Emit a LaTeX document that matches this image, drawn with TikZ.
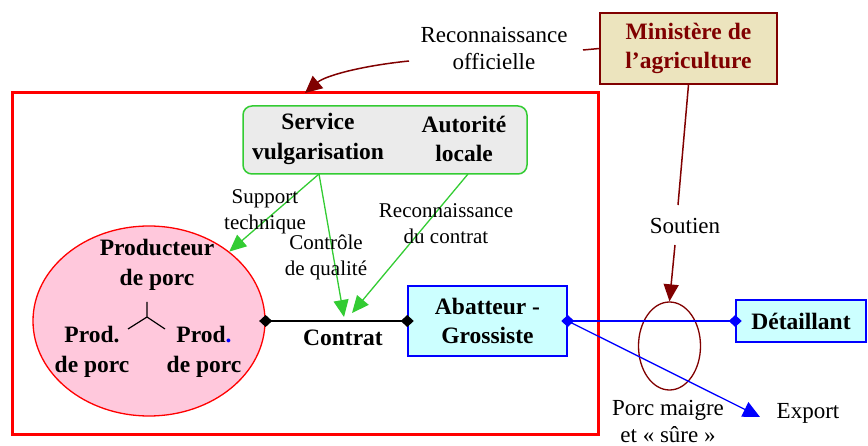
\documentclass[tikz,border=0pt]{standalone}
\usepackage{fontspec}
\setmainfont{Liberation Serif}
\usetikzlibrary{arrows.meta,shapes.geometric}
\definecolor{dred}{RGB}{128,0,0}
\definecolor{mgreen}{RGB}{51,204,51}
\definecolor{mblue}{RGB}{0,0,255}
\definecolor{mred}{RGB}{255,0,0}
\definecolor{minfill}{RGB}{236,228,190}
\definecolor{pinkfill}{RGB}{255,200,220}
\definecolor{cyanfill}{RGB}{204,255,255}
\definecolor{grayfill}{RGB}{235,235,235}
\tikzset{
  bigbold/.style={font=\fontsize{23.5}{29.5}\selectfont\bfseries, align=center, inner sep=0pt},
  lab/.style={font=\fontsize{21}{26}\selectfont, align=center, inner sep=0pt},
  toplab/.style={font=\fontsize{23}{27}\selectfont, align=center, inner sep=0pt},
  bluebox/.style={draw=mblue, fill=cyanfill, line width=1.5pt, rectangle, inner sep=0pt},
  garrow/.style={draw=mgreen, line width=1.3pt, -{Triangle[length=17pt,width=15pt]}},
  rarrow/.style={draw=dred, line width=1.5pt},
  dia/.style={{Diamond[length=13pt,width=12pt]}-{Diamond[length=13pt,width=12pt]}, shorten <=-6.5pt, shorten >=-6.5pt},
}
\begin{document}
\begin{tikzpicture}[x=1pt,y=-1pt]
\useasboundingbox (0,0) rectangle (868,446);
% main red frame
\draw[mred, line width=3pt] (12,93) rectangle (598,434);
% ministere
\node[draw=dred, fill=minfill, line width=1.5pt, minimum width=177pt, minimum height=71pt, inner sep=0pt,
      font=\fontsize{23.5}{29}\selectfont\bfseries, text=dred, align=center] (min) at (688.5,48.5) {Ministère de\\l'agriculture};
\node[toplab] (recoff) at (494,49) {Reconnaissance\\officielle};
\coordinate (rc1) at (583,50);
\coordinate (rc2) at (409,61);
\coordinate (rc3) at (305,93);
\draw[rarrow] (min.west) -- (rc1);
\draw[rarrow, -{Triangle[length=17pt,width=16pt]}] (rc2) .. controls (360,66) and (325,76) .. (rc3);
% actors box
\node[draw=mgreen, fill=grayfill, line width=1.5pt, rounded corners=9pt, minimum width=284pt, minimum height=68pt, inner sep=0pt] (act) at (385,140) {};
\node[bigbold] (serv) at (318,139) {Service\\vulgarisation};
\node[bigbold] (aut) at (464,139) {Autorité\\locale};
\coordinate (s0) at (319,174);
\coordinate (a0) at (468,174);
% producers
\node[ellipse, draw=mred, fill=pinkfill, line width=1.3pt, minimum width=232pt, minimum height=190pt, inner sep=0pt] (prod) at (149,321) {};
\node[bigbold] (p1) at (157,265) {Producteur\\de porc};
\node[bigbold] (p2) at (92,352) {Prod.\\de porc};
\node[bigbold] (p3) at (204,352) {Prod\textcolor{mblue}{.}\\de porc};
\coordinate (yc) at (147,317);
\coordinate (yt) at (147,302);
\coordinate (yl) at (128,329);
\coordinate (yr) at (165,329);
\draw[line width=1.2pt] (yc) -- (yt) (yc) -- (yl) (yc) -- (yr);
% abatteur
\node[bluebox, minimum width=159pt, minimum height=70pt, bigbold] (abat) at (487.5,321) {Abatteur -\\Grossiste};
\node[bluebox, minimum width=130pt, minimum height=42pt, bigbold] (det) at (801,321) {Détaillant};
% contract
\draw[line width=1.5pt, dia] (prod.east) -- (abat.west);
\node[bigbold] (contrat) at (343,338) {Contrat};
% green arrows
\coordinate (cq) at (344,317);
\coordinate (cr) at (352,313);
\draw[garrow] (s0) -- (prod);
\draw[garrow] (s0) -- (cq);
\draw[garrow] (a0) -- (cr);
\node[lab] (l1) at (265,212) {Support\\technique};
\node[lab] (l2) at (326,257) {Contrôle\\de qualité};
\node[lab] (l3) at (446,224) {Reconnaissance\\du contrat};
% right part
\node[toplab] (sout) at (685,226) {Soutien};
\coordinate (m1) at (678,205);
\coordinate (m2) at (675,245);
\node[ellipse, draw=dred, line width=1.3pt, minimum width=62pt, minimum height=88pt, inner sep=0pt] (ov) at (669.5,346) {};
\draw[rarrow] (min.south) -- (m1);
\draw[rarrow, -{Triangle[length=17pt,width=15pt]}] (m2) -- (ov.north);
\draw[mblue, line width=1.3pt, dia] (abat.east) -- (det.west);
\node[toplab] (exp) at (808,413) {Export};
\coordinate (et) at (760,417);
\draw[mblue, line width=1.3pt, -{Triangle[length=17pt,width=16pt]}] (abat.east) -- (et);
\node[toplab] (porc) at (668,421) {Porc maigre\\et « sûre »};
\end{tikzpicture}
\end{document}
